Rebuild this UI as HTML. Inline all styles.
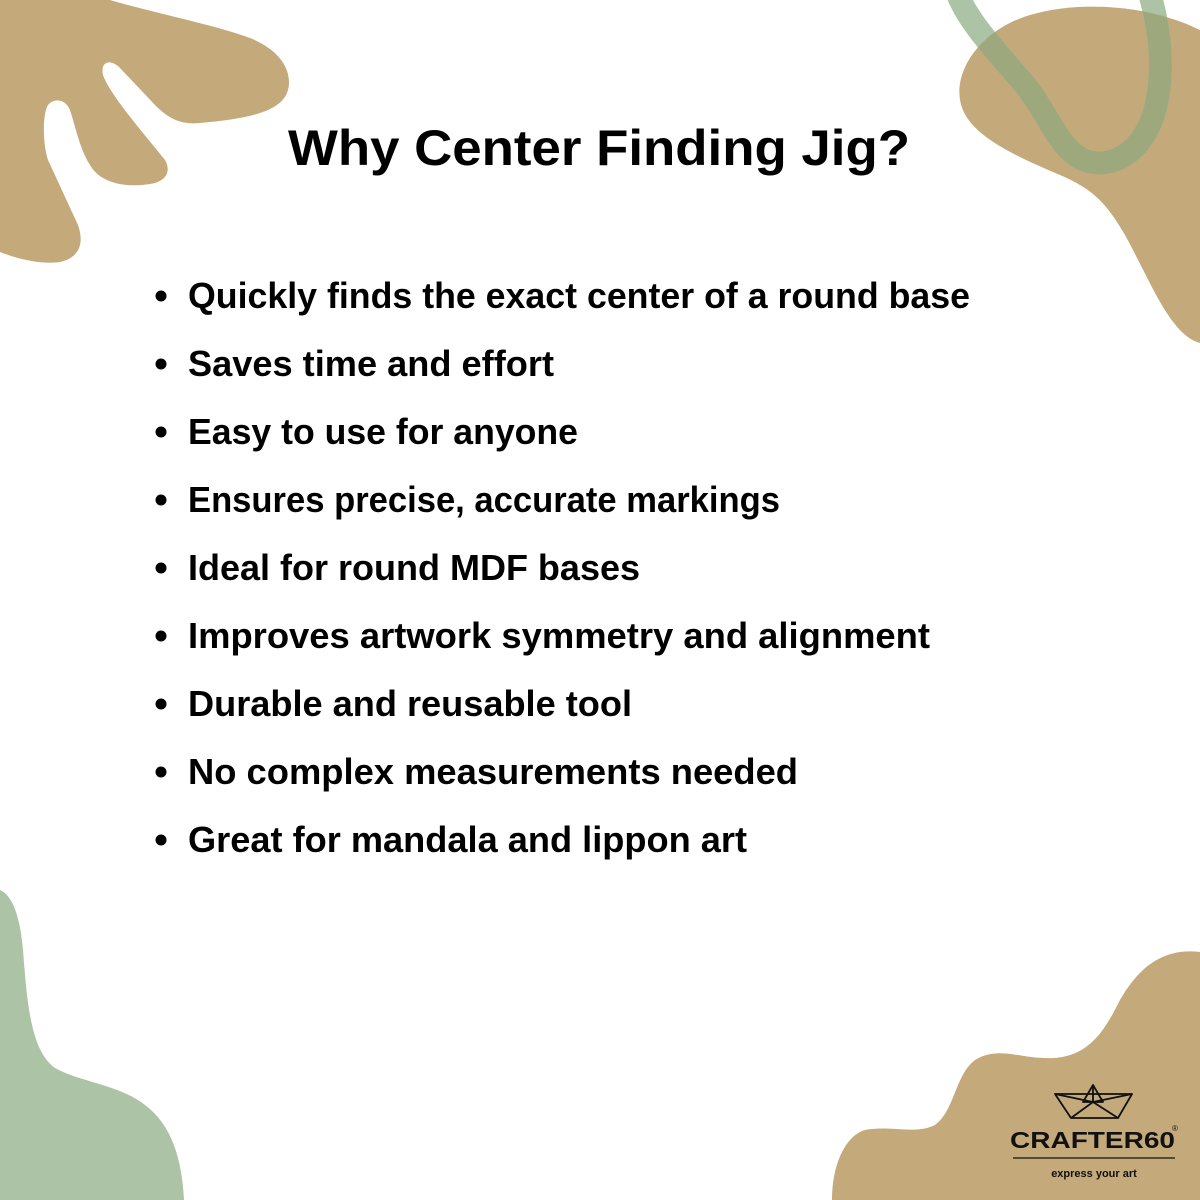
<!DOCTYPE html>
<html><head><meta charset="utf-8"><style>
html,body{margin:0;padding:0;background:#fff;}
svg{display:block;}
</style></head><body>
<svg width="1200" height="1200" viewBox="0 0 1200 1200" xmlns="http://www.w3.org/2000/svg">
<defs>
<clipPath id="tr"><path id="trp" d="M1200,30 C1150,5 1080,0 1030,15 C980,30 955,70 960,100 C965,130 1000,150 1060,175 C1090,188 1105,200 1125,235 C1150,280 1170,335 1200,343 Z"/></clipPath>
</defs>
<!-- top-left tan -->
<path fill="#c4a97b" d="M0,0 L110,0 C150,12 215,25 250,38 C285,52 292,75 288,90 C283,108 260,118 200,123 C180,125 168,118 155,105 L120,68 C110,58 100,62 103,75 C110,95 145,135 165,160 C172,172 165,182 150,184 C125,188 100,183 90,165 C80,150 75,125 70,110 C66,100 55,97 48,105 C42,115 43,145 48,160 L78,225 C85,245 78,258 60,262 C40,265 15,258 0,252 Z"/>
<!-- top-right tan -->
<path fill="#c4a97b" d="M1200,30 C1150,5 1080,0 1030,15 C980,30 955,70 960,100 C965,130 1000,150 1060,175 C1090,188 1105,200 1125,235 C1150,280 1170,335 1200,343 Z"/>
<!-- green ring -->
<path fill="none" stroke="#adc3a5" stroke-width="23" d="M958,-5 C970,25 1000,55 1025,85 C1050,115 1060,155 1090,162 C1120,168 1145,145 1155,110 C1165,70 1160,30 1150,-5"/>
<path fill="none" stroke="#9ea87d" stroke-width="23" clip-path="url(#tr)" d="M958,-5 C970,25 1000,55 1025,85 C1050,115 1060,155 1090,162 C1120,168 1145,145 1155,110 C1165,70 1160,30 1150,-5"/>
<!-- bottom-left green -->
<path fill="#adc3a5" d="M0,890 C12,895 20,915 23,950 C27,1000 30,1050 55,1068 C80,1082 120,1085 145,1105 C172,1125 182,1160 184,1200 L0,1200 Z"/>
<!-- bottom-right tan -->
<path fill="#c4a97b" d="M1200,952 C1165,948 1140,965 1120,1000 C1105,1030 1090,1055 1055,1058 C1020,1060 1000,1045 975,1060 C955,1075 955,1110 935,1125 C915,1135 890,1125 865,1130 C845,1136 832,1165 832,1200 L1200,1200 Z"/>
<!-- title -->
<text x="288" y="165" font-family="Liberation Sans, sans-serif" font-weight="bold" font-size="50" textLength="622" lengthAdjust="spacingAndGlyphs" fill="#000">Why Center Finding Jig?</text>
<g font-family="Liberation Sans, sans-serif" font-weight="bold" font-size="36" fill="#000">
<circle cx="161" cy="296" r="5.5"/><text x="188" y="308" textLength="782" lengthAdjust="spacingAndGlyphs">Quickly finds the exact center of a round base</text>
<circle cx="161" cy="364" r="5.5"/><text x="188" y="376" textLength="366" lengthAdjust="spacingAndGlyphs">Saves time and effort</text>
<circle cx="161" cy="432" r="5.5"/><text x="188" y="444" textLength="390" lengthAdjust="spacingAndGlyphs">Easy to use for anyone</text>
<circle cx="161" cy="500" r="5.5"/><text x="188" y="512" textLength="592" lengthAdjust="spacingAndGlyphs">Ensures precise, accurate markings</text>
<circle cx="161" cy="568" r="5.5"/><text x="188" y="580" textLength="452" lengthAdjust="spacingAndGlyphs">Ideal for round MDF bases</text>
<circle cx="161" cy="636" r="5.5"/><text x="188" y="648" textLength="742" lengthAdjust="spacingAndGlyphs">Improves artwork symmetry and alignment</text>
<circle cx="161" cy="704" r="5.5"/><text x="188" y="716" textLength="444" lengthAdjust="spacingAndGlyphs">Durable and reusable tool</text>
<circle cx="161" cy="772" r="5.5"/><text x="188" y="784" textLength="610" lengthAdjust="spacingAndGlyphs">No complex measurements needed</text>
<circle cx="161" cy="840" r="5.5"/><text x="188" y="852" textLength="559" lengthAdjust="spacingAndGlyphs">Great for mandala and lippon art</text>
</g>
<!-- logo -->
<g fill="none" stroke="#111" stroke-width="1.8" stroke-linejoin="round">
<path d="M1055,1094 L1132,1094 L1118,1118 L1071,1118 Z"/>
<path d="M1093,1085 L1083,1102 L1103,1102 Z"/>
<path d="M1093,1085 L1093,1102 M1055,1094 L1093,1102 L1132,1094 M1071,1118 L1093,1102 L1118,1118"/>
</g>
<text x="1010" y="1148" font-family="Liberation Sans, sans-serif" font-weight="bold" font-size="23" textLength="165" lengthAdjust="spacingAndGlyphs" fill="#111">CRAFTER60</text>
<text x="1172" y="1131" font-family="Liberation Sans, sans-serif" font-size="8" fill="#111">®</text>
<line x1="1013" y1="1158" x2="1175" y2="1158" stroke="#111" stroke-width="1.3"/>
<text x="1094" y="1177" text-anchor="middle" font-family="Liberation Sans, sans-serif" font-weight="bold" font-size="11" fill="#111">express your art</text>
</svg>
</body></html>
